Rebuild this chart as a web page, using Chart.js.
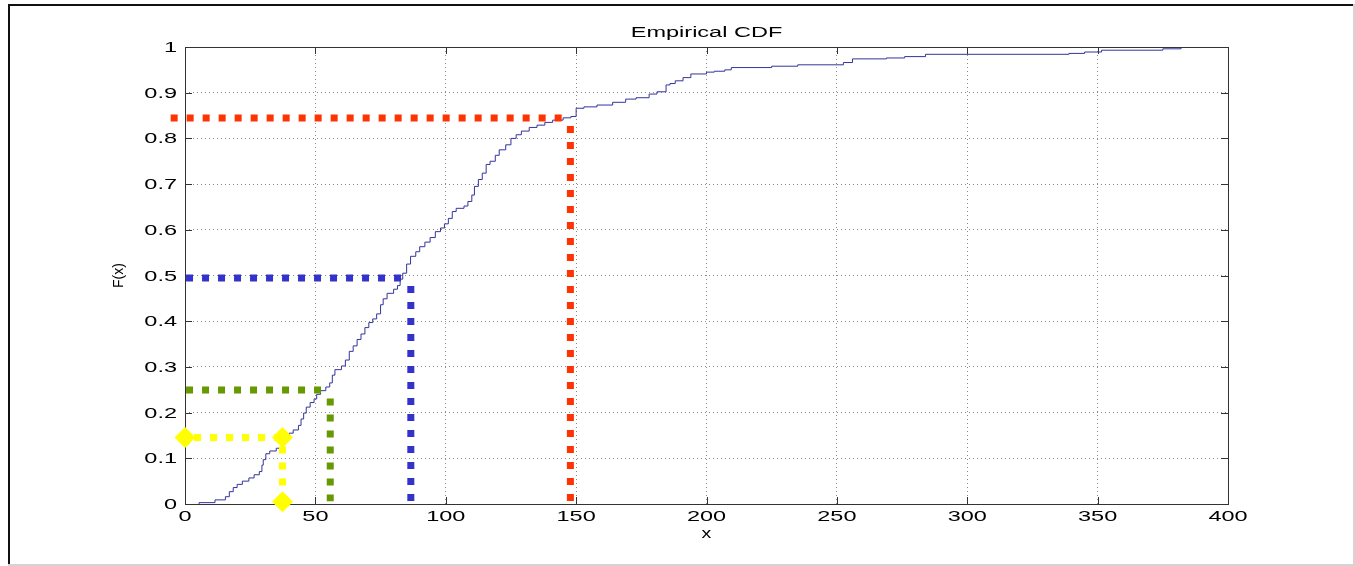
<!DOCTYPE html>
<html>
<head>
<meta charset="utf-8">
<title>Empirical CDF</title>
<script src="https://cdn.jsdelivr.net/npm/chart.js@4.4.0/dist/chart.umd.min.js"></script>
<style>
  html, body { margin: 0; padding: 0; background: #fff; }
  canvas { display: block; }
</style>
</head>
<body>
<canvas id="cdf" width="1355" height="566"></canvas>
<script>
// empirical cdf (x = sample value, y = F(x))
const cdfX = [5.4, 5.4, 11.5, 15.5, 17, 18.5, 20, 22, 24.5, 26.5, 28.5, 29.5, 30, 31, 32.5, 35, 37, 38.5, 40, 41.5,
  43.5, 44.5, 45.5, 46.5, 48, 49.5, 50.5, 52, 54, 55.5, 56.5, 57.5, 60, 61.5, 63, 64.5, 66, 67.5, 69, 70.5,
  72, 73.5, 75, 76, 77.5, 80, 81.5, 82.5, 83.5, 85, 86.5, 88.5, 90, 92, 94, 96, 98, 99.5, 101, 102.5,
  104, 107, 108.5, 110, 111, 112.5, 114, 115.5, 117, 119, 120.5, 123, 125, 127, 129, 132, 135, 138, 141, 145,
  148, 150, 153, 158, 164, 169, 173, 178, 181, 184.5, 186, 188, 191, 194, 200, 203, 207, 209.5, 225, 235,
  252.5, 256, 269, 276, 284, 339, 345, 351.5, 375, 382];
const cdfY = [0, 0.003, 0.009, 0.016, 0.027, 0.036, 0.043, 0.050, 0.057, 0.064, 0.071, 0.085, 0.097, 0.110, 0.116, 0.122, 0.134, 0.146, 0.155, 0.162,
  0.172, 0.186, 0.199, 0.212, 0.222, 0.230, 0.240, 0.248, 0.256, 0.265, 0.282, 0.294, 0.302, 0.315, 0.334, 0.346, 0.360, 0.372, 0.386, 0.397,
  0.405, 0.416, 0.436, 0.449, 0.461, 0.470, 0.478, 0.492, 0.505, 0.525, 0.542, 0.552, 0.563, 0.573, 0.583, 0.596, 0.604, 0.613, 0.625, 0.640,
  0.647, 0.652, 0.662, 0.676, 0.695, 0.710, 0.724, 0.743, 0.750, 0.763, 0.775, 0.786, 0.800, 0.808, 0.816, 0.824, 0.829, 0.835, 0.840, 0.845,
  0.848, 0.866, 0.869, 0.873, 0.879, 0.886, 0.889, 0.897, 0.902, 0.917, 0.920, 0.926, 0.933, 0.941, 0.945, 0.947, 0.950, 0.955, 0.958, 0.961,
  0.966, 0.974, 0.976, 0.979, 0.984, 0.986, 0.989, 0.993, 0.996, 1.0];

// quantile guide lines: yellow, green, blue, red
const guideLevel = [0.1455, 0.2495, 0.4945, 0.8446];  // F(x) of the horizontal part
const guideValue = [37.4, 55.7, 86.6, 147.8];         // x of the vertical part
const guideHStart = [0, 0.4, 0.4, -5.5];
const guideHEnd = [37.4, 52.5, 83, 146];
const guideVTop = [0.1455, 0.231, 0.477, 0.827];
const guideVBottom = [0.005, 0.006, 0.006, 0.006];
const guideColors = ['#ffff00', '#669900', '#3333cc', '#ff3300'];

const xTicks = [0, 50, 100, 150, 200, 250, 300, 350, 400];
const yTicks = [0, 0.1, 0.2, 0.3, 0.4, 0.5, 0.6, 0.7, 0.8, 0.9, 1];
const yTickLabels = ['0', '0.1', '0.2', '0.3', '0.4', '0.5', '0.6', '0.7', '0.8', '0.9', '1'];

const FONT = '14px "Liberation Sans", Arial, sans-serif';
const STRETCH = 1.68; // matlab text renders wide

// text helper, stretched horizontally
function wideText(ctx, txt, x, y, align, sx) {
  ctx.save();
  ctx.translate(x, y);
  ctx.scale(sx, 1);
  ctx.textAlign = align;
  ctx.textBaseline = 'alphabetic';
  ctx.fillText(txt, 0, 0);
  ctx.restore();
}

const matlabLook = {
  id: 'matlabLook',
  beforeDraw(chart) {
    const ctx = chart.ctx;
    ctx.save();
    ctx.fillStyle = '#fff';
    ctx.fillRect(0, 0, chart.width, chart.height);
    // frame round the figure
    ctx.fillStyle = '#111';
    ctx.fillRect(8, 4, 2, 561);
    ctx.fillRect(8, 4, 1347, 2);
    ctx.fillStyle = '#d4d4d4';
    ctx.fillRect(1353, 4, 2, 562);
    ctx.fillRect(8, 564, 1347, 2);
    ctx.restore();
  },
  beforeDatasetsDraw(chart) {
    const ctx = chart.ctx;
    const a = chart.chartArea;
    const xs = chart.scales.x, ys = chart.scales.y;
    ctx.save();
    ctx.strokeStyle = '#333';
    ctx.lineWidth = 1;
    ctx.strokeRect(Math.round(a.left) + 0.5, Math.round(a.top) + 0.5,
      Math.round(a.right - a.left), Math.round(a.bottom - a.top));
    // inner tick marks on all four sides
    ctx.beginPath();
    xTicks.forEach(v => {
      const px = Math.round(xs.getPixelForValue(v)) + 0.5;
      ctx.moveTo(px, a.bottom); ctx.lineTo(px, a.bottom - 7);
      ctx.moveTo(px, a.top); ctx.lineTo(px, a.top + 7);
    });
    yTicks.forEach(v => {
      const py = Math.round(ys.getPixelForValue(v)) + 0.5;
      ctx.moveTo(a.left, py); ctx.lineTo(a.left + 7, py);
      ctx.moveTo(a.right, py); ctx.lineTo(a.right - 7, py);
    });
    ctx.stroke();
    ctx.restore();
  },
  afterDraw(chart) {
    const ctx = chart.ctx;
    const a = chart.chartArea;
    const xs = chart.scales.x, ys = chart.scales.y;
    ctx.save();
    ctx.font = FONT;
    ctx.fillStyle = '#000';
    xTicks.forEach(v => wideText(ctx, String(v), xs.getPixelForValue(v), a.bottom + 17, 'center', STRETCH));
    yTicks.forEach((v, i) => wideText(ctx, yTickLabels[i], a.left - 8, ys.getPixelForValue(v) + 5, 'right', STRETCH));
    wideText(ctx, 'Empirical CDF', (a.left + a.right) / 2, a.top - 10, 'center', STRETCH);
    wideText(ctx, 'x', (a.left + a.right) / 2, a.bottom + 34, 'center', 1.4);
    // y label, rotated
    ctx.translate(a.left - 66, (a.top + a.bottom) / 2);
    ctx.rotate(-Math.PI / 2);
    ctx.textAlign = 'center';
    ctx.textBaseline = 'middle';
    ctx.fillText('F(x)', 0, 0);
    ctx.restore();
  }
};

const cdfPoints = cdfX.map((x, i) => ({ x: x, y: cdfY[i] }));

const guideSets = [];
guideLevel.forEach((lvl, i) => {
  const yellow = i === 0;
  guideSets.push({
    label: 'h' + i,
    data: [{ x: guideHStart[i], y: lvl }, { x: guideHEnd[i], y: lvl }],
    borderColor: guideColors[i],
    backgroundColor: guideColors[i],
    borderWidth: 7,
    borderDash: [7, 9],
    borderDashOffset: yellow ? 7 : 0,
    borderCapStyle: 'butt',
    pointStyle: 'rectRot',
    pointRadius: yellow ? 10.5 : 0,
    pointBorderWidth: 0,
    clip: false
  });
  guideSets.push({
    label: 'v' + i,
    data: [{ x: guideValue[i], y: guideVTop[i] }, { x: guideValue[i], y: guideVBottom[i] }],
    borderColor: guideColors[i],
    backgroundColor: guideColors[i],
    borderWidth: 7,
    borderDash: [7, 9],
    borderDashOffset: yellow ? 7 : 0,
    borderCapStyle: 'butt',
    pointStyle: 'rectRot',
    pointRadius: yellow ? [0, 10.5] : 0,
    pointBorderWidth: 0,
    clip: false
  });
});

new Chart(document.getElementById('cdf').getContext('2d'), {
  type: 'line',
  data: {
    datasets: [
      ...guideSets,
      {
        label: 'ecdf',
        data: cdfPoints,
        stepped: 'before',   // flat until the next sample, then jump
        borderColor: '#34349a',
        borderWidth: 1,
        pointRadius: 0,
        fill: false,
        order: 10
      }
    ]
  },
  options: {
    responsive: false,
    animation: false,
    events: [],
    layout: { padding: { left: 185, right: 127, top: 47, bottom: 62 } },
    plugins: { legend: { display: false }, tooltip: { enabled: false } },
    scales: {
      x: {
        type: 'linear',
        min: 0,
        max: 400,
        afterBuildTicks: axis => { axis.ticks = xTicks.map(v => ({ value: v })); },
        ticks: { display: false },
        grid: { color: '#8c8c8c', lineWidth: 1, drawTicks: false },
        border: { display: false, dash: [1, 3] }
      },
      y: {
        type: 'linear',
        min: 0,
        max: 1,
        afterBuildTicks: axis => { axis.ticks = yTicks.map(v => ({ value: v })); },
        ticks: { display: false },
        grid: { color: '#8c8c8c', lineWidth: 1, drawTicks: false },
        border: { display: false, dash: [1, 3] }
      }
    }
  },
  plugins: [matlabLook]
});
</script>
</body>
</html>
